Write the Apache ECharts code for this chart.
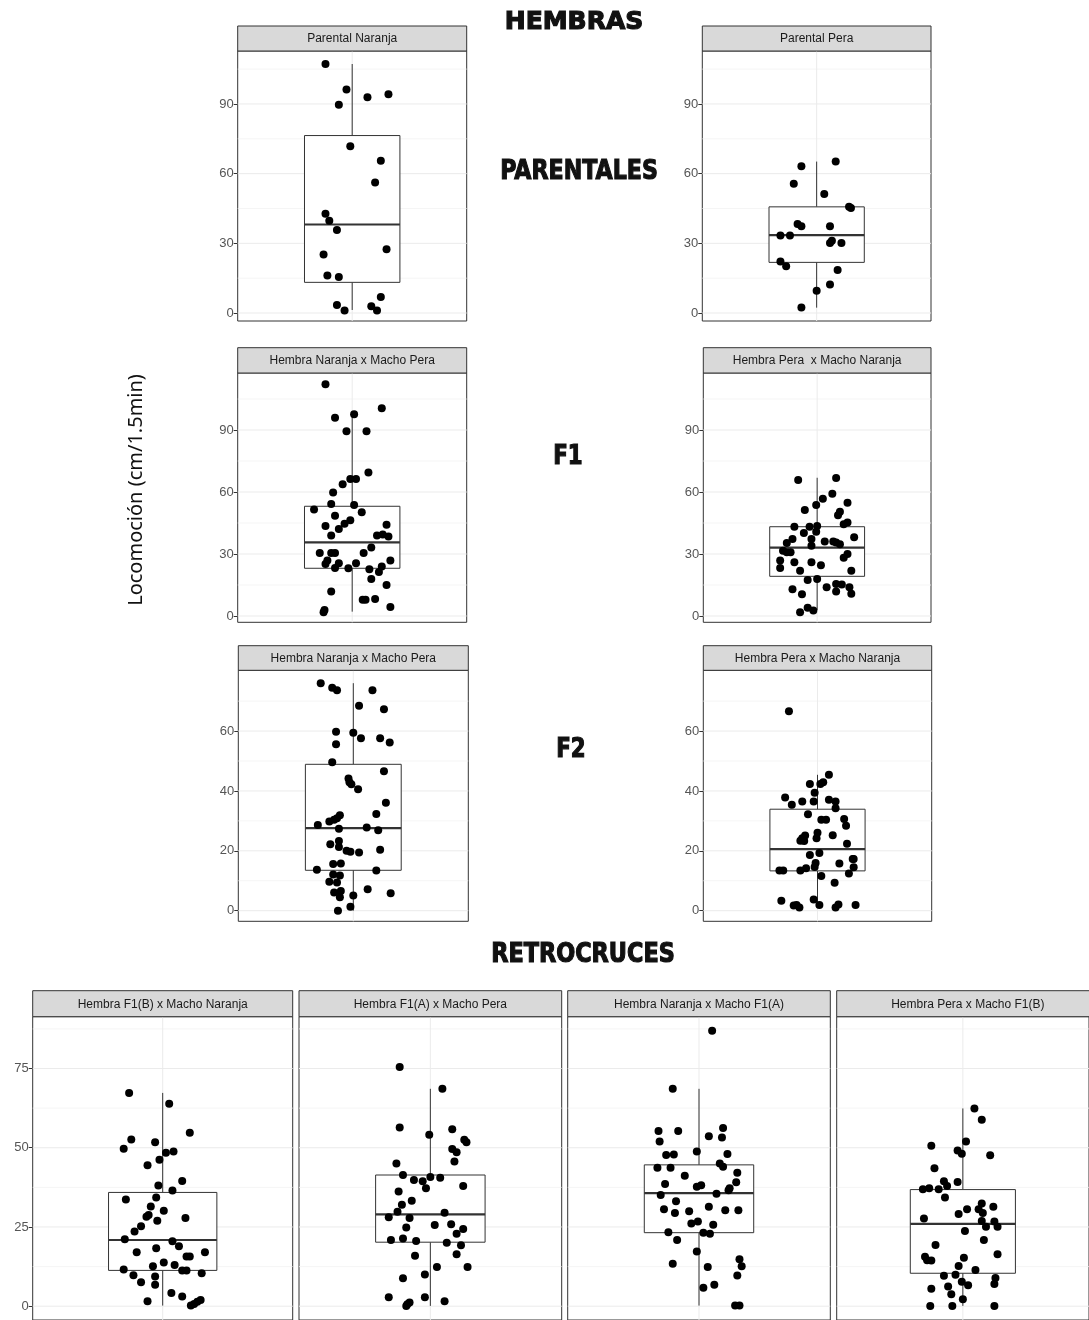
<!DOCTYPE html>
<html><head><meta charset="utf-8">
<script src="https://cdn.jsdelivr.net/npm/echarts@6/dist/echarts.min.js"></script>
<style>html,body{margin:0;padding:0;background:#fff}#c{width:1089px;height:1320px}</style>
</head><body><div id="c"></div>
<script>
// ---------- titles / categories ----------
const sectionTitles = ['HEMBRAS', 'PARENTALES', 'F1', 'F2', 'RETROCRUCES'];
const yAxisTitle = 'Locomoción (cm/1.5min)';
const panelTitles = [
  'Parental Naranja', 'Parental Pera',
  'Hembra Naranja x Macho Pera', 'Hembra Pera  x Macho Naranja',
  'Hembra Naranja x Macho Pera', 'Hembra Pera x Macho Naranja',
  'Hembra F1(B) x Macho Naranja', 'Hembra F1(A) x Macho Pera',
  'Hembra Naranja x Macho F1(A)', 'Hembra Pera x Macho F1(B)'
];

// ---------- tick labels ----------
const ticksParental = [0, 30, 60, 90];
const ticksF1 = [0, 30, 60, 90];
const ticksF2 = [0, 20, 40, 60];
const ticksRetro = [0, 25, 50, 75];

// ---------- points: [jittered x position, locomotion] ----------
const ptsParentalNaranja = [[0.86,107.2],[0.97,96.2],[1.08,92.9],[1.19,94.2],[0.93,89.7],[0.99,71.8],[1.15,65.6],[1.12,56.2],[0.86,42.7],[0.88,39.7],[0.92,35.7],[1.18,27.5],[0.85,25.2],[0.87,16.1],[0.93,15.5],[1.15,6.9],[0.92,3.4],[0.96,1.1],[1.10,2.9],[1.13,1.1]];
const ptsParentalPera = [[0.92,63.2],[1.10,65.2],[0.88,55.7],[1.04,51.2],[1.17,45.7],[1.18,45.2],[0.90,38.3],[0.92,37.4],[1.07,37.4],[0.81,33.4],[0.86,33.4],[1.07,30.1],[1.08,31.1],[1.13,30.1],[0.81,22.2],[0.84,20.1],[1.11,18.5],[1.07,12.3],[1.00,9.6],[0.92,2.4]];
const ptsF1NaranjaPera = [[0.86,112.1],[1.155,100.5],[0.91,96.0],[1.01,97.6],[0.97,89.4],[1.075,89.4],[1.085,69.4],[0.99,66.3],[1.02,66.3],[0.95,63.7],[0.90,59.8],[0.89,54.2],[1.01,53.7],[0.80,51.6],[1.05,50.2],[0.91,48.5],[0.99,46.3],[0.96,44.7],[0.86,43.5],[1.18,44.2],[0.93,42.1],[0.89,39.0],[1.13,39.0],[1.16,39.4],[1.19,38.5],[1.10,33.1],[0.83,30.5],[0.89,30.5],[0.91,30.5],[1.06,30.5],[0.87,26.8],[0.86,25.2],[0.93,25.5],[1.02,25.5],[1.20,26.9],[1.155,24.0],[0.91,23.2],[0.98,23.1],[1.09,22.6],[1.14,21.3],[1.10,17.9],[0.89,11.9],[1.18,15.0],[1.055,7.9],[1.07,7.9],[1.12,8.2],[1.20,4.4],[0.855,2.9],[0.85,1.8]];
const ptsF1PeraNaranja = [[0.90,65.8],[1.10,66.8],[1.08,59.2],[1.03,56.8],[1.16,54.8],[0.995,53.7],[0.935,51.3],[1.12,50.5],[1.11,48.7],[1.16,45.3],[1.14,44.4],[0.88,43.2],[0.96,43.2],[1.00,43.5],[0.995,40.8],[0.93,40.2],[1.195,38.1],[0.87,37.3],[0.97,37.3],[1.04,36.1],[1.085,36.1],[1.10,35.6],[1.12,34.7],[0.84,35.3],[0.97,34.0],[0.82,31.6],[0.84,30.8],[0.86,30.8],[1.16,30.0],[1.14,28.2],[0.805,26.9],[0.88,26.0],[0.97,26.0],[1.02,24.5],[0.805,23.2],[0.91,21.9],[1.18,21.9],[0.95,17.4],[1.00,17.9],[1.10,15.5],[1.13,15.2],[1.05,13.9],[1.17,13.9],[0.87,12.9],[1.10,11.8],[1.18,10.8],[0.92,10.5],[0.95,4.0],[0.98,2.7],[0.91,1.8]];
const ptsF2NaranjaPera = [[0.83,76.0],[0.89,74.5],[0.915,73.6],[1.10,73.6],[1.03,68.5],[1.16,67.3],[0.91,59.8],[1.00,59.4],[1.04,57.6],[1.14,57.6],[1.19,56.2],[0.91,55.6],[0.89,49.6],[1.16,46.6],[0.975,44.2],[0.98,42.9],[0.99,42.2],[1.025,40.6],[1.17,36.1],[1.12,32.3],[0.93,31.9],[0.915,30.9],[0.90,30.4],[0.875,29.8],[0.815,28.6],[0.925,27.4],[1.07,27.8],[1.13,26.9],[0.925,23.3],[0.88,22.2],[0.925,21.3],[0.965,20.0],[0.985,19.7],[1.03,19.4],[1.14,20.4],[0.81,13.7],[1.12,13.4],[0.895,15.6],[0.935,15.8],[0.895,12.1],[0.93,11.8],[0.875,9.7],[0.915,9.4],[0.90,6.1],[0.935,6.6],[0.93,4.5],[1.075,7.2],[1.195,5.8],[1.00,5.1],[0.985,1.3],[0.92,0.0]];
const ptsF2PeraNaranja = [[0.85,66.6],[1.06,45.4],[1.03,42.9],[0.96,42.3],[1.015,42.3],[0.985,39.4],[0.83,37.8],[1.06,37.1],[0.92,36.5],[0.98,36.5],[1.095,36.5],[0.865,35.4],[1.095,34.2],[0.95,32.2],[1.02,30.4],[1.045,30.4],[1.14,30.6],[1.15,28.4],[1.00,26.0],[1.08,25.2],[0.935,25.1],[0.92,24.2],[0.91,23.4],[0.93,23.3],[0.995,24.2],[1.155,22.4],[1.01,19.3],[0.96,18.6],[0.99,15.9],[1.115,15.8],[1.185,17.3],[1.19,17.3],[1.19,14.5],[0.985,14.6],[0.94,14.2],[0.80,13.4],[0.82,13.4],[0.91,13.4],[1.165,12.4],[1.02,11.6],[1.09,9.3],[0.81,3.3],[0.98,3.7],[0.875,1.7],[0.905,1.1],[1.01,1.9],[1.095,1.1],[1.11,2.1],[1.20,1.9],[0.89,1.9]];
const ptsRetroF1BNaranja = [[0.845,67.3],[1.03,63.9],[0.855,52.6],[0.82,49.7],[0.965,51.7],[1.125,54.7],[1.015,48.4],[1.05,48.8],[0.985,46.2],[0.93,44.5],[1.09,39.5],[0.98,38.1],[1.045,36.5],[0.97,34.3],[0.83,33.7],[0.945,31.5],[1.005,30.1],[0.935,28.8],[0.925,28.2],[1.105,27.8],[0.975,27.0],[0.90,25.2],[0.87,23.6],[0.825,21.1],[1.045,20.5],[1.075,18.9],[0.97,18.3],[0.88,17.0],[1.195,17.0],[1.11,15.7],[1.125,15.7],[1.005,13.8],[1.055,13.0],[0.955,12.6],[0.82,11.6],[1.09,11.3],[1.11,11.3],[1.18,10.4],[0.865,9.8],[0.965,9.4],[0.90,7.6],[0.965,6.8],[1.04,4.2],[1.09,3.1],[0.93,1.6],[1.13,0.2],[1.145,0.7],[1.16,1.4],[1.175,2.0]];
const ptsRetroF1APera = [[0.86,75.5],[1.055,68.6],[0.86,56.4],[1.10,55.8],[0.995,54.1],[1.155,52.5],[1.165,51.7],[1.10,49.6],[1.12,48.6],[1.11,45.7],[0.845,45.0],[0.875,41.4],[1.00,40.8],[1.045,40.5],[0.925,39.8],[0.965,39.4],[0.98,37.2],[1.15,37.9],[0.855,36.2],[0.915,33.3],[0.87,32.0],[0.85,29.8],[1.065,29.5],[0.81,28.1],[0.905,27.8],[1.02,25.6],[1.095,25.9],[1.15,24.4],[0.89,24.8],[1.12,22.9],[0.82,20.9],[0.875,21.4],[0.935,20.6],[1.075,20.0],[1.14,19.2],[1.12,16.4],[0.93,15.9],[1.03,12.4],[1.17,12.4],[0.975,10.0],[0.875,8.8],[0.81,2.8],[0.975,2.8],[1.065,1.6],[0.905,1.2],[0.89,0.1],[0.895,0.6]];
const ptsRetroNaranjaF1A = [[1.06,86.9],[0.88,68.6],[0.815,55.3],[0.905,55.3],[1.11,56.2],[1.045,53.6],[1.105,53.2],[0.82,52.0],[0.99,48.8],[0.85,47.7],[0.885,47.9],[1.13,48.0],[1.095,45.0],[1.11,44.0],[0.81,43.7],[0.87,43.7],[1.175,42.1],[0.935,41.2],[0.845,38.6],[1.17,39.1],[1.01,38.2],[0.99,37.7],[1.14,37.2],[1.135,36.6],[0.825,35.1],[1.08,35.5],[0.895,33.1],[0.84,30.6],[0.89,29.4],[0.955,30.0],[1.045,31.4],[1.12,30.3],[1.18,30.3],[0.965,26.1],[0.995,26.7],[1.065,25.7],[0.86,23.3],[1.02,23.2],[1.05,22.9],[0.90,20.9],[0.99,17.3],[0.88,13.4],[1.185,14.8],[1.195,12.6],[1.04,12.4],[1.175,9.7],[1.02,5.8],[1.07,6.8],[1.165,0.2],[1.185,0.2]];
const ptsRetroPeraF1B = [[1.055,62.4],[1.09,58.8],[1.015,52.0],[0.85,50.6],[0.975,49.1],[0.995,48.1],[1.13,47.6],[0.865,43.5],[0.91,39.4],[0.975,39.2],[0.925,37.9],[0.81,36.9],[0.84,37.2],[0.885,36.9],[0.915,34.3],[1.09,32.4],[1.145,31.4],[1.02,30.6],[1.075,30.6],[1.095,29.4],[0.98,29.1],[0.815,27.7],[1.09,26.9],[1.15,26.7],[1.11,25.1],[1.165,25.1],[1.01,23.7],[1.10,20.9],[0.87,19.3],[1.165,16.4],[0.82,15.6],[0.83,14.5],[0.85,14.4],[1.005,15.3],[0.98,12.7],[1.06,11.4],[0.91,9.6],[0.965,9.9],[1.155,8.9],[0.995,7.7],[1.025,6.6],[1.15,7.0],[0.85,5.5],[0.93,6.2],[0.945,3.8],[1.00,2.2],[0.845,0.1],[0.95,0.1],[1.15,0.1]];

// ---------- box summaries: [lower whisker, Q1, median, Q3, upper whisker] ----------
const boxParentalNaranja = [1.3, 13.2, 38.1, 76.4, 107.2];
const boxParentalPera = [2.3, 21.8, 33.5, 45.7, 65.2];
const boxF1NaranjaPera = [2.1, 23.1, 35.6, 53.1, 97.6];
const boxF1PeraNaranja = [2.9, 19.2, 33.1, 43.2, 66.9];
const boxF2NaranjaPera = [0.0, 13.5, 27.6, 48.9, 76.0];
const boxF2PeraNaranja = [1.1, 13.3, 20.6, 33.9, 45.4];
const boxRetroF1BNaranja = [0.2, 11.3, 20.9, 35.9, 67.3];
const boxRetroF1APera = [0.1, 20.2, 29.0, 41.4, 68.6];
const boxRetroNaranjaF1A = [0.2, 23.2, 35.7, 44.6, 68.6];
const boxRetroPeraF1B = [0.1, 10.4, 26.0, 36.8, 62.4];

// ---------- layout (pixels) and scales ----------
const rowScales = [
  { lo: -3.44, hi: 112.8, ticks: ticksParental },
  { lo: -3.05, hi: 117.6, ticks: ticksF1 },
  { lo: -3.54, hi: 80.3, ticks: ticksF2 },
  { lo: -4.35, hi: 91.35, ticks: ticksRetro }
];
const rowGeom = [
  { stripTop: 26, top: 51, height: 270 },
  { stripTop: 347.7, top: 373, height: 249.3 },
  { stripTop: 645.7, top: 670.3, height: 251 },
  { stripTop: 990.7, top: 1016.7, height: 304 }
];
const panels = [
  { pts: ptsParentalNaranja, box: boxParentalNaranja, row: 0, left: 237.7, width: 229, labels: true },
  { pts: ptsParentalPera, box: boxParentalPera, row: 0, left: 702.3, width: 228.7, labels: true },
  { pts: ptsF1NaranjaPera, box: boxF1NaranjaPera, row: 1, left: 237.7, width: 229, labels: true },
  { pts: ptsF1PeraNaranja, box: boxF1PeraNaranja, row: 1, left: 703.3, width: 227.7, labels: true },
  { pts: ptsF2NaranjaPera, box: boxF2NaranjaPera, row: 2, left: 238.3, width: 230, labels: true },
  { pts: ptsF2PeraNaranja, box: boxF2PeraNaranja, row: 2, left: 703.3, width: 228.4, labels: true },
  { pts: ptsRetroF1BNaranja, box: boxRetroF1BNaranja, row: 3, left: 32.7, width: 260, labels: true },
  { pts: ptsRetroF1APera, box: boxRetroF1APera, row: 3, left: 299, width: 262.7, labels: false },
  { pts: ptsRetroNaranjaF1A, box: boxRetroNaranjaF1A, row: 3, left: 567.7, width: 262.6, labels: false },
  { pts: ptsRetroPeraF1B, box: boxRetroPeraF1B, row: 3, left: 836.7, width: 262.3, labels: false }
];

const tickFont = 'Liberation Sans, Arial, sans-serif';

function makeBoxRenderer(sc) {
  const step = sc.ticks[1] - sc.ticks[0];
  const minors = [];
  for (let v = sc.ticks[0] - step / 2; v <= sc.hi; v += step) if (v >= sc.lo) minors.push(v);
  return function (params, api) {
    const cs = params.coordSys;
    const kids = [];
    const hline = (v, w, c) => {
      const y = api.coord([1, v])[1];
      kids.push({ type: 'line', shape: { x1: cs.x, y1: y, x2: cs.x + cs.width, y2: y }, style: { stroke: c, lineWidth: w } });
    };
    minors.forEach(v => hline(v, 0.8, '#F2F2F2'));
    sc.ticks.forEach(v => hline(v, 1, '#EBEBEB'));
    const xc = api.value(0);
    const cx = api.coord([xc, 0])[0];
    kids.push({ type: 'line', shape: { x1: cx, y1: cs.y, x2: cx, y2: cs.y + cs.height }, style: { stroke: '#EBEBEB', lineWidth: 1 } });
    const pLo = api.coord([xc - 0.25, api.value(2)]);
    const pHi = api.coord([xc + 0.25, api.value(4)]);
    const yLoW = api.coord([xc, api.value(1)])[1];
    const yHiW = api.coord([xc, api.value(5)])[1];
    const yMed = api.coord([xc, api.value(3)])[1];
    kids.push({ type: 'line', shape: { x1: cx, y1: yHiW, x2: cx, y2: pHi[1] }, style: { stroke: '#333', lineWidth: 1 } });
    kids.push({ type: 'line', shape: { x1: cx, y1: pLo[1], x2: cx, y2: yLoW }, style: { stroke: '#333', lineWidth: 1 } });
    kids.push({ type: 'rect', shape: { x: pLo[0], y: pHi[1], width: pHi[0] - pLo[0], height: pLo[1] - pHi[1] }, style: { fill: '#fff', stroke: '#333', lineWidth: 1 } });
    kids.push({ type: 'line', shape: { x1: pLo[0], y1: yMed, x2: pHi[0], y2: yMed }, style: { stroke: '#333', lineWidth: 2.2 } });
    return { type: 'group', children: kids };
  };
}

const grids = [], xAxes = [], yAxes = [], series = [], graphics = [];
panels.forEach((p, i) => {
  const g = rowGeom[p.row], sc = rowScales[p.row];
  grids.push({ left: p.left, top: g.top, width: p.width, height: g.height, show: true, borderColor: '#333', borderWidth: 1, backgroundColor: '#fff', containLabel: false });
  xAxes.push({ type: 'value', gridIndex: i, min: 0.4, max: 1.6, show: false });
  yAxes.push({
    type: 'value', gridIndex: i, min: sc.lo, max: sc.hi,
    axisLine: { show: false }, splitLine: { show: false },
    axisTick: { show: p.labels, length: 4, lineStyle: { color: '#333' }, customValues: sc.ticks },
    axisLabel: { show: p.labels, customValues: sc.ticks, margin: 4, fontSize: 13, color: '#555', fontFamily: tickFont }
  });
  series.push({
    type: 'custom', xAxisIndex: i, yAxisIndex: i, z: 1, silent: true,
    renderItem: makeBoxRenderer(sc),
    data: [[1].concat(p.box)]
  });
  series.push({
    type: 'scatter', xAxisIndex: i, yAxisIndex: i, z: 3, silent: true,
    symbolSize: 8, itemStyle: { color: '#000', opacity: 1 },
    data: p.pts
  });
  // strip
  graphics.push({ type: 'rect', shape: { x: p.left, y: g.stripTop, width: p.width, height: g.top - g.stripTop }, style: { fill: '#D9D9D9', stroke: '#333', lineWidth: 1 }, z: 10 });
  graphics.push({ type: 'text', x: p.left + p.width / 2, y: (g.stripTop + g.top) / 2 + 0.5, z: 11,
    style: { text: panelTitles[i], font: '12px ' + tickFont, fill: '#1a1a1a', align: 'center', verticalAlign: 'middle', textAlign: 'center', textVerticalAlign: 'middle' } });
});

const titlePos = [
  { x: 574, y: 22, size: 25, sx: 1.0 },
  { x: 579, y: 171.5, size: 27, sx: 0.82 },
  { x: 568, y: 457, size: 26, sx: 0.82 },
  { x: 571, y: 750, size: 26, sx: 0.82 },
  { x: 583, y: 955.5, size: 26, sx: 0.86 }
];
sectionTitles.forEach((t, i) => {
  const tp = titlePos[i];
  graphics.push({ type: 'text', x: tp.x, y: tp.y, scaleX: tp.sx, z: 20,
    style: { text: t, font: 'bold ' + tp.size + 'px "DejaVu Sans", sans-serif', fill: '#111', stroke: '#111', lineWidth: 1.2, align: 'center', verticalAlign: 'middle', textAlign: 'center', textVerticalAlign: 'middle' } });
});
graphics.push({ type: 'text', x: 136, y: 490, rotation: Math.PI / 2, z: 20,
  style: { text: yAxisTitle, font: '20px "Noto Sans", sans-serif', fill: '#111', align: 'center', verticalAlign: 'middle', textAlign: 'center', textVerticalAlign: 'middle' } });

const chart = echarts.init(document.getElementById('c'), null, { renderer: 'canvas' });
chart.setOption({
  animation: false,
  backgroundColor: '#fff',
  grid: grids, xAxis: xAxes, yAxis: yAxes, series: series,
  graphic: { elements: graphics }
});
</script>
</body></html>
